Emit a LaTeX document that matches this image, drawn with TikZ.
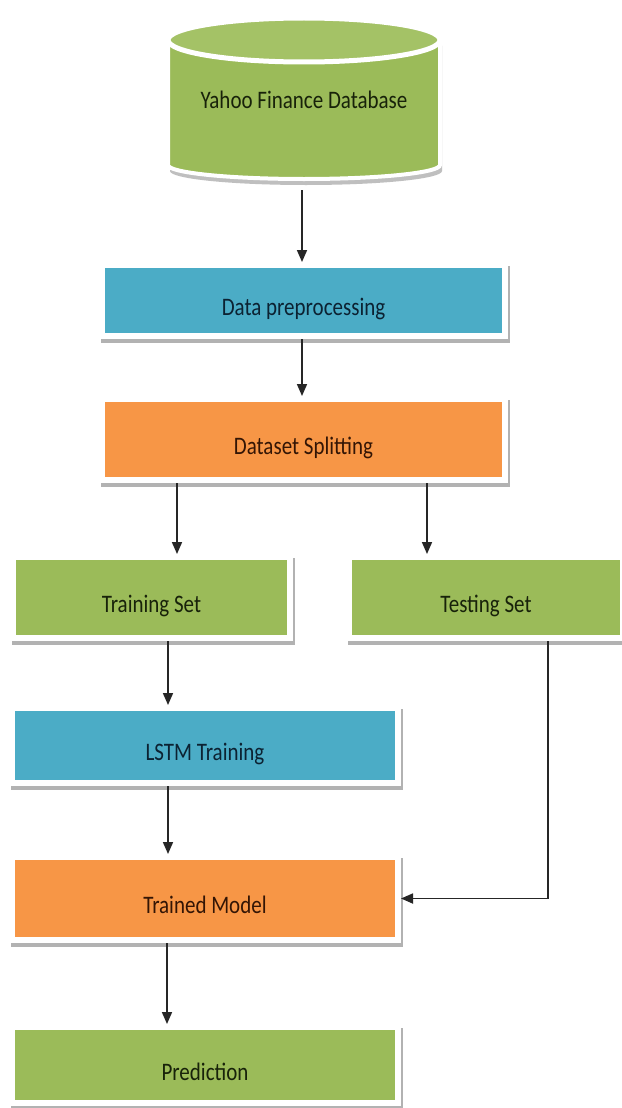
\documentclass[tikz,border=0pt]{standalone}
\usepackage{fontspec}
\setmainfont{Carlito}
\usepackage{graphicx}
\usetikzlibrary{arrows.meta}
\definecolor{ogreen}{HTML}{9BBB59}
\definecolor{otop}{HTML}{A4C266}
\definecolor{oblue}{HTML}{4BACC6}
\definecolor{oorange}{HTML}{F79646}
\definecolor{tgreen}{HTML}{18220A}
\definecolor{tblue}{HTML}{0C2232}
\definecolor{torange}{HTML}{331505}
\newcommand{\lbl}[1]{\scalebox{1}[1.2]{#1}}
\begin{document}
\begin{tikzpicture}[x=1pt,y=-1pt,
  txt/.style={font=\fontsize{21}{25}\selectfont, text height=30pt, text depth=0pt, inner sep=0pt},
  box/.style={txt, draw=white, line width=6pt, outer sep=3pt,
    preaction={draw=black!30, fill=black!30, line width=6pt, transform canvas={shift={(1.5pt,-4pt)}}}},
  gbox/.style={box, fill=ogreen, text=tgreen},
  bbox/.style={box, fill=oblue, text=tblue},
  obox/.style={box, fill=oorange, text=torange},
  arr/.style={draw=black!85, line width=1.7pt, -{Triangle[length=12pt,width=10pt]}}]
\fill[white] (0,0) rectangle (621,1108);
\useasboundingbox (0,0) rectangle (621,1108);
% cylinder
\begin{scope}[shift={(2,6)}]
\fill[black!25] (168,40) -- (168,165) arc[start angle=180,end angle=0,x radius=136,y radius=14] -- (440,40) arc[start angle=0,end angle=-180,x radius=136,y radius=22] -- cycle;
\end{scope}
\filldraw[fill=ogreen, draw=white, line width=4pt] (168,40) -- (168,165) arc[start angle=180,end angle=0,x radius=136,y radius=14] -- (440,40) arc[start angle=0,end angle=-180,x radius=136,y radius=22] -- cycle;
\filldraw[fill=otop, draw=white, line width=5pt] (304,40) ellipse[x radius=136, y radius=22];
\node[txt, text=tgreen, minimum width=272pt, minimum height=194pt] (db) at (304,93) {\lbl{Yahoo Finance Database}};
% boxes
\node[bbox, minimum width=403pt, minimum height=71pt] (prep) at (303.5,300.5) {\lbl{Data preprocessing}};
\node[obox, minimum width=403pt, minimum height=81pt] (split) at (303.5,439.5) {\lbl{Dataset Splitting}};
\node[gbox, minimum width=277pt, minimum height=81pt] (train) at (151.5,597.5) {\lbl{Training Set}};
\node[gbox, minimum width=274pt, minimum height=81pt] (test) at (486,597.5) {\lbl{Testing Set}};
\node[bbox, minimum width=386pt, minimum height=75pt] (lstm) at (205,745.5) {\lbl{LSTM Training}};
\node[obox, minimum width=386pt, minimum height=83pt] (trained) at (205,898.5) {\lbl{Trained Model}};
\node[gbox, minimum width=386pt, minimum height=76pt] (pred) at (205,1065) {\lbl{Prediction}};
% connectors
\draw[arr] (db.south -| 302,0) -- (prep.north -| 302,0);
\draw[arr] (prep.south -| 302,0) -- (split.north -| 302,0);
\draw[arr] (split.south -| 177,0) -- (train.north -| 177,0);
\draw[arr] (split.south -| 427,0) -- (test.north -| 427,0);
\draw[arr] (train.south -| 168,0) -- (lstm.north -| 168,0);
\draw[arr] (lstm.south -| 168,0) -- (trained.north -| 168,0);
\draw[arr] (test.south -| 548,0) |- (trained.east);
\draw[arr] (trained.south -| 167,0) -- (pred.north -| 167,0);
\end{tikzpicture}
\end{document}
